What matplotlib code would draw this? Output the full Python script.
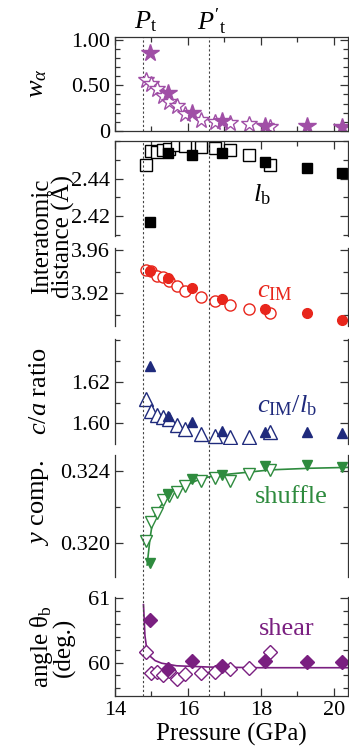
import matplotlib
matplotlib.use('Agg')
import matplotlib.pyplot as plt
import matplotlib.transforms as mtransforms
from matplotlib.lines import Line2D
from matplotlib.ticker import MultipleLocator

plt.rcParams['font.family'] = ['Liberation Serif', 'DejaVu Serif']
plt.rcParams['mathtext.fontset'] = 'custom'
plt.rcParams['mathtext.rm'] = 'Liberation Serif'
plt.rcParams['mathtext.it'] = 'Liberation Serif:italic'
plt.rcParams['mathtext.bf'] = 'Liberation Serif:bold'

# pressures (GPa)
p_open = [14.84, 15.0, 15.14, 15.32, 15.47, 15.69, 15.93, 16.36, 16.73, 17.14, 17.67, 18.25]
p_fill = [14.96, 15.44, 16.10, 16.92, 18.10, 19.25, 20.23]
p_t = 14.78
p_t2 = 16.58

# w_alpha
w_open = [0.56, 0.52, 0.46, 0.38, 0.32, 0.27, 0.19, 0.12, 0.095, 0.084, 0.073, 0.048]
w_fill = [0.853, 0.414, 0.20, 0.114, 0.059, 0.059, 0.048]

# l_b
lb_open = [2.4471, 2.4548, 2.4543, 2.4550, 2.4557, 2.4579, 2.4575, 2.4566, 2.4561, 2.4554, 2.4527, 2.4471]
lb_fill = [2.4168, 2.4539, 2.4527, 2.4536, 2.4489, 2.4455, 2.4429]

# c_IM
c_open = [3.9415, 3.9403, 3.9363, 3.9348, 3.9311, 3.9271, 3.9225, 3.9163, 3.9126, 3.9092, 3.9055, 3.9015]
c_fill = [3.9409, 3.9338, 3.9246, 3.9148, 3.9055, 3.9015, 3.8954]

# c/a ratio
r_open = [1.6117, 1.6061, 1.6042, 1.6032, 1.6021, 1.5994, 1.5973, 1.5949, 1.5941, 1.5933, 1.5933, 1.5957]
r_fill = [1.6277, 1.6037, 1.6005, 1.5965, 1.5957, 1.5960, 1.5954]

# y component (shuffle)
s_open = [0.32011, 0.32117, 0.32167, 0.32238, 0.32260, 0.32285, 0.32316, 0.32346, 0.32359, 0.32346, 0.32383, 0.32406]
s_fill = [0.31885, 0.32270, 0.32353, 0.32378, 0.32428, 0.32433, 0.32424]
s_curve_p = [14.88, 14.96, 15.03, 15.14, 15.37, 15.64, 15.96, 16.28, 16.60, 17.15, 17.70, 18.25, 19.34, 20.41]
s_curve = [0.31875, 0.32024, 0.32117, 0.32173, 0.32238, 0.32279, 0.32322, 0.32350, 0.32368, 0.32383, 0.32394, 0.32406, 0.32415, 0.32420]

# angle theta_b (shear)
a_open = [60.16, 59.84, 59.86, 59.80, 59.87, 59.74, 59.83, 59.84, 59.86, 59.90, 59.91, 60.16]
a_fill = [60.66, 59.90, 60.03, 59.95, 60.02, 60.005, 60.005]
a_curve_p = [14.78, 14.80, 14.82, 14.87, 14.96, 15.10, 15.28, 15.69, 16.60, 17.97, 20.41]
a_curve = [60.90, 60.67, 60.42, 60.21, 60.10, 60.03, 59.99, 59.95, 59.93, 59.92, 59.92]

c_star = '#a04fa6'
c_red = '#e8261c'
c_blue = '#1f2a7c'
c_green = '#2e8b3e'
c_purple = '#7a1f80'

W, H = 349, 749
fig = plt.figure(figsize=(W / 100, H / 100), dpi=100)


def add(top, bottom):
    return fig.add_axes([115 / W, 1 - bottom / H, (347.5 - 115) / W, (bottom - top) / H])


ax1 = add(37, 131)
ax2 = add(140.7, 236)
ax3 = add(248, 326)
ax4 = add(339.3, 444)
ax5 = add(455, 577)
ax6 = add(597, 696)
axes = [ax1, ax2, ax3, ax4, ax5, ax6]

for i, ax in enumerate(axes):
    ax.set_xlim(14, 20.37)
    ax.xaxis.set_major_locator(MultipleLocator(2))
    ax.xaxis.set_minor_locator(MultipleLocator(1))
    ax.tick_params(which='both', direction='in', left=True, right=True,
                   top=(i in (0, 1)), bottom=(i in (0, 5)),
                   labelbottom=(i == 5), labelsize=16, width=0.9, color='#333333')
    ax.tick_params(which='major', length=6)
    ax.tick_params(which='minor', length=3.5)
    for s in ax.spines.values():
        s.set_linewidth(0.9)
        s.set_color('#333333')
    if i > 0:
        ax.spines['top'].set_visible(i == 1)
        ax.spines['bottom'].set_visible(i == 5)

# dashed transition lines
dash = dict(ls=(0, (2, 2)), lw=0.8, color='#444444')
ax1.axvline(p_t, **dash)
ax1.axvline(p_t2, **dash)
trans = mtransforms.blended_transform_factory(ax6.transData, fig.transFigure)
for p in (p_t, p_t2):
    fig.add_artist(Line2D([p, p], [1 - 696 / H, 1 - 140.7 / H], transform=trans, **dash))

# panel 1: w_alpha
ax1.plot(p_open, w_open, ls='none', marker='*', ms=12, mfc='white', mec=c_star, mew=1)
ax1.plot(p_fill, w_fill, ls='none', marker='*', ms=13, color=c_star)
ax1.set_ylim(0, 1.03)
ax1.set_yticks([0, 0.5, 1.0])
ax1.set_yticklabels(['0', '0.50', '1.00'])
ax1.yaxis.set_minor_locator(MultipleLocator(0.1))

# panel 2: l_b
ax2.plot(p_open, lb_open, ls='none', marker='s', ms=8, mfc='white', mec='black', mew=1)
ax2.plot(p_fill, lb_fill, ls='none', marker='s', ms=6.5, color='black')
ax2.set_ylim(2.4095, 2.4602)
ax2.set_yticks([2.42, 2.44])
ax2.set_yticklabels(['2.42', '2.44'])
ax2.yaxis.set_minor_locator(MultipleLocator(0.01))
ax2.text(18.02, 2.4316, r'$l_\mathrm{b}$', fontsize=19, ha='center', va='center')

# panel 3: c_IM
ax3.plot(p_open, c_open, ls='none', marker='o', ms=8, mfc='white', mec=c_red, mew=1)
ax3.plot(p_fill, c_fill, ls='none', marker='o', ms=7, color=c_red)
ax3.set_ylim(3.8898, 3.9618)
ax3.set_yticks([3.92, 3.96])
ax3.set_yticklabels(['3.92', '3.96'])
ax3.yaxis.set_minor_locator(MultipleLocator(0.02))
ax3.text(18.38, 3.921, r'$c_\mathrm{IM}$', fontsize=19, color=c_red, ha='center', va='center')

# panel 4: c/a
ax4.plot(p_open, r_open, ls='none', marker='^', ms=10, mfc='white', mec=c_blue, mew=1)
ax4.plot(p_fill, r_fill, ls='none', marker='^', ms=7.5, color=c_blue)
ax4.set_ylim(1.5901, 1.6405)
ax4.set_yticks([1.60, 1.62])
ax4.set_yticklabels(['1.60', '1.62'])
ax4.yaxis.set_minor_locator(MultipleLocator(0.01))
ax4.text(18.70, 1.6085, r'$c_\mathrm{IM}/l_\mathrm{b}$', fontsize=19, color=c_blue, ha='center', va='center')

# panel 5: shuffle
ax5.plot(s_curve_p, s_curve, color=c_green, lw=1.2)
ax5.plot(p_open, s_open, ls='none', marker='v', ms=8.5, mfc='white', mec=c_green, mew=1)
ax5.plot(p_fill, s_fill, ls='none', marker='v', ms=7.5, color=c_green)
ax5.set_ylim(0.31808, 0.32489)
ax5.set_yticks([0.320, 0.324])
ax5.set_yticklabels(['0.320', '0.324'])
ax5.yaxis.set_minor_locator(MultipleLocator(0.002))
ax5.text(18.84, 0.32257, 'shuffle', fontsize=19, color=c_green, ha='center', va='center')

# panel 6: shear
ax6.plot(a_curve_p, a_curve, color=c_purple, lw=1.2)
ax6.plot(p_open, a_open, ls='none', marker='D', ms=7, mfc='white', mec=c_purple, mew=1)
ax6.plot(p_fill, a_fill, ls='none', marker='D', ms=7.5, color=c_purple)
ax6.set_ylim(59.48, 61.02)
ax6.set_yticks([60, 61])
ax6.set_yticklabels(['60', '61'])
ax6.yaxis.set_minor_locator(MultipleLocator(0.2))
ax6.text(18.70, 60.52, 'shear', fontsize=19, color=c_purple, ha='center', va='center')
ax6.set_xticks([14, 16, 18, 20])
ax6.set_xlabel('Pressure (GPa)', fontsize=18, labelpad=2)

# y labels
def ylab(x, y, s, fs=19, **kw):
    fig.text(x / W, 1 - y / H, s, rotation=90, ha='center', va='center', fontsize=fs, **kw)

ylab(38, 83, r'$w_\alpha$')
ylab(53, 236, 'Interatomic\ndistance (Å)', fs=18, linespacing=0.78)
ylab(40, 391, r'$c/a$ ratio')
ylab(40, 503, r'$y$ comp.')
ylab(52, 647, 'angle θ$_\\mathrm{b}$\n(deg.)', fs=18, linespacing=0.85)

# transition labels
fig.text(146 / W, 1 - 22 / H, r'$P_\mathrm{t}$', fontsize=19, ha='center', va='center')
fig.text(212 / W, 1 - 22 / H, r"$P'_\mathrm{t}$", fontsize=19, ha='center', va='center')

fig.savefig('out.png', dpi=100)
